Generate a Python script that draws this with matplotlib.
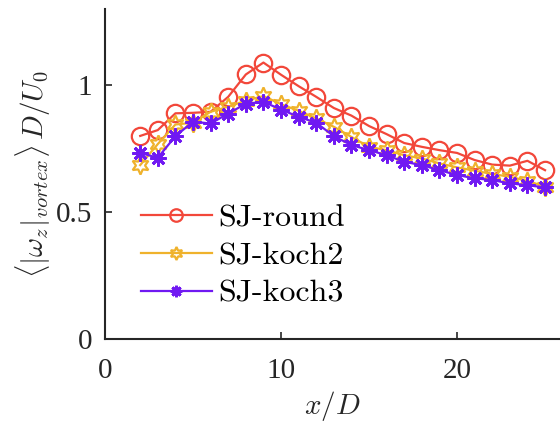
import numpy as np
import matplotlib
matplotlib.use('Agg')
import matplotlib.pyplot as plt

plt.rcParams['mathtext.fontset'] = 'cm'
plt.rcParams['font.family'] = ['Liberation Serif', 'DejaVu Serif']

x = np.arange(2, 26)
sj_round = [0.800, 0.823, 0.889, 0.891, 0.895, 0.954, 1.042, 1.089, 1.041, 0.996,
            0.954, 0.910, 0.880, 0.839, 0.807, 0.772, 0.757, 0.744, 0.733, 0.705,
            0.687, 0.683, 0.702, 0.665]
sj_koch2 = [0.685, 0.768, 0.845, 0.852, 0.895, 0.915, 0.939, 0.957, 0.925, 0.899,
            0.869, 0.836, 0.796, 0.757, 0.744, 0.724, 0.711, 0.692, 0.676, 0.663,
            0.650, 0.639, 0.623, 0.600]
sj_koch3 = [0.733, 0.714, 0.799, 0.856, 0.849, 0.888, 0.927, 0.934, 0.904, 0.875,
            0.852, 0.799, 0.764, 0.744, 0.724, 0.698, 0.685, 0.665, 0.646, 0.633,
            0.626, 0.613, 0.606, 0.597]
labels = ['SJ-round', 'SJ-koch2', 'SJ-koch3']

c_red = '#f2473a'
c_yel = '#efb22c'
c_pur = '#7019f2'

fig = plt.figure(figsize=(5.6, 4.26), dpi=100)
ax = fig.add_axes([0.1875, 0.2042, 0.8125, 0.7747])

ax.plot(x, sj_round, '-', color=c_red, lw=1.6, marker='o', ms=12.5,
        mfc='none', mec=c_red, mew=1.6, label=labels[0])
ax.plot(x, sj_koch2, '-', color=c_yel, lw=1.6, marker=(6, 1, 0), ms=13,
        mfc='none', mec=c_yel, mew=1.6, label=labels[1])
ax.plot(x, sj_koch3, '-', color=c_pur, lw=1.6, marker=(8, 2, 0), ms=11.5,
        mec=c_pur, mew=2.0, label=labels[2])

ax.set_xlim(0, 25.85)
ax.set_ylim(0, 1.3)
ax.set_xticks([0, 10, 20])
ax.set_yticks([0, 0.5, 1])
ax.set_yticklabels(['0', '0.5', '1'])
for s in ['top', 'right']:
    ax.spines[s].set_visible(False)
for s in ['left', 'bottom']:
    ax.spines[s].set_linewidth(1.5)
    ax.spines[s].set_color('#262626')
ax.tick_params(direction='in', length=5, width=1.2, labelsize=21, colors='#262626')
ax.tick_params(axis='x', pad=14)
ax.tick_params(axis='y', pad=9)

ax.set_xlabel(r'$x/D$', fontsize=21, color='#262626', labelpad=3)
ax.set_ylabel(r'$\langle|\omega_z|_{vortex}\rangle\,D/U_0$', fontsize=21,
              color='#262626', labelpad=2)

ax.legend(loc='upper left', bbox_to_anchor=(0.05, 0.447), frameon=False,
          prop={'family': 'cmr10', 'size': 23}, handlelength=2.25,
          handletextpad=0.19, labelspacing=0.29, borderaxespad=0,
          markerscale=0.72)

fig.savefig('out.png', dpi=100)
